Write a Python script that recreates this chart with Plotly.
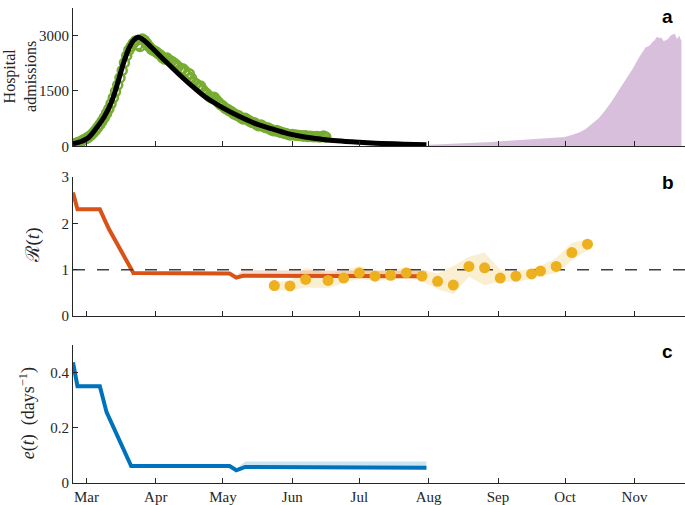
import pandas as pd
import plotly.graph_objects as go
from plotly.subplots import make_subplots

# ---- data -------------------------------------------------------------
# daily hospital admissions, first wave (from 24 Feb 2020)
adm_start = "2020-02-24"
adm_vals = [
    60, 75, 95, 120, 150, 185,
    215, 255, 300, 360, 430, 510, 590, 680, 780, 890, 1010, 1150, 1310, 1480,
    1660, 1850, 2050, 2260, 2450, 2600, 2700, 2790, 2850, 2740, 2700, 2900,
    2860, 2780, 2700, 2630, 2590,
    2560, 2510, 2470, 2400, 2360, 2390, 2330, 2300, 2260, 2210, 2150, 2080,
    2100, 2040, 1920, 1960, 1840, 1730, 1690, 1610, 1630, 1530, 1460, 1410,
    1340, 1310, 1330, 1260, 1190, 1130,
    1090, 1030, 1000, 960, 930, 880, 850, 830, 780, 740, 760, 720, 680, 650,
    640, 590, 560, 580, 540, 510, 500, 470, 440, 420, 430, 400, 380, 360, 350,
    330, 310,
    320, 310, 300, 295, 290, 280, 285, 270, 275, 265, 260, 270, 255, 260, 280, 250,
]
adm_dates = pd.date_range(adm_start, periods=len(adm_vals), freq="D")

# model fit
fit_dates = ["2020-02-24", "2020-02-28", "2020-03-02", "2020-03-06", "2020-03-09",
             "2020-03-12", "2020-03-14", "2020-03-16", "2020-03-18", "2020-03-20",
             "2020-03-22", "2020-03-24", "2020-03-26", "2020-03-30", "2020-04-05",
             "2020-04-11", "2020-04-17", "2020-04-23", "2020-05-01", "2020-05-08",
             "2020-05-15", "2020-05-23", "2020-05-30", "2020-06-06", "2020-06-14",
             "2020-06-21", "2020-07-01", "2020-07-11", "2020-07-21", "2020-07-31"]
fit_vals = [70, 140, 240, 540, 800, 1170, 1520, 1930, 2330, 2650, 2860, 2950, 2900,
            2680, 2320, 1970, 1640, 1340, 1040, 820, 630, 470, 345, 260, 195, 150,
            110, 80, 60, 45]
fit_hi = [80, 155, 260, 570, 840, 1220, 1580, 2000, 2410, 2740, 2950, 3040, 2980,
          2740, 2360, 2000, 1665, 1360, 1055, 830, 640, 478, 350, 264, 198, 152,
          112, 81, 61, 46]
fit_lo = [62, 128, 222, 512, 765, 1125, 1465, 1865, 2255, 2570, 2780, 2870, 2830,
          2625, 2285, 1942, 1618, 1322, 1026, 810, 621, 463, 340, 256, 192, 148,
          108, 79, 59, 44]

# second wave admissions
wave2_dates = ["2020-08-01", "2020-08-08", "2020-08-15", "2020-08-22", "2020-08-29",
               "2020-09-05", "2020-09-12", "2020-09-19", "2020-09-26", "2020-10-01",
               "2020-10-04", "2020-10-07", "2020-10-10", "2020-10-13", "2020-10-16",
               "2020-10-19", "2020-10-22", "2020-10-25", "2020-10-28", "2020-10-31",
               "2020-11-03", "2020-11-05", "2020-11-06", "2020-11-07", "2020-11-08",
               "2020-11-09", "2020-11-10", "2020-11-11", "2020-11-12", "2020-11-13",
               "2020-11-14", "2020-11-15", "2020-11-16", "2020-11-17", "2020-11-18",
               "2020-11-19", "2020-11-20", "2020-11-21", "2020-11-22"]
wave2_vals = [45, 60, 75, 100, 120, 150, 170, 205, 230, 250, 300, 370, 460, 600, 760,
              980, 1230, 1520, 1800, 2080, 2400, 2600, 2680, 2700, 2740, 2820, 2870,
              2960, 2930, 2940, 2850, 2870, 2900, 2990, 3020, 3050, 2900, 2990, 2850]

# reproduction number from model
r_dates = ["2020-02-24", "2020-02-26", "2020-03-07", "2020-03-11", "2020-03-22",
           "2020-05-04", "2020-05-07", "2020-05-10", "2020-07-31"]
r_vals = [2.66, 2.30, 2.30, 1.88, 0.93, 0.92, 0.83, 0.87, 0.86]
r_hi = [2.70, 2.33, 2.33, 1.91, 0.95, 0.94, 0.88, 0.99, 0.98]
r_lo = [2.62, 2.27, 2.27, 1.85, 0.91, 0.90, 0.80, 0.82, 0.82]

# weekly R estimates
rw_dates = ["2020-05-24", "2020-05-31", "2020-06-07", "2020-06-17", "2020-06-24",
            "2020-07-01", "2020-07-08", "2020-07-15", "2020-07-22", "2020-07-29",
            "2020-08-05", "2020-08-12", "2020-08-19", "2020-08-26", "2020-09-02",
            "2020-09-09", "2020-09-16", "2020-09-20", "2020-09-27", "2020-10-04",
            "2020-10-11"]
rw_vals = [0.66, 0.65, 0.79, 0.77, 0.82, 0.93, 0.86, 0.88, 0.93, 0.86, 0.75, 0.67,
           1.07, 1.04, 0.82, 0.86, 0.91, 0.97, 1.07, 1.37, 1.55]
rw_hi = [0.74, 0.76, 1.05, 0.92, 0.98, 1.08, 0.98, 1.00, 1.05, 1.00, 0.92, 1.08,
         1.28, 1.37, 1.00, 0.98, 1.02, 1.08, 1.25, 1.58, 1.65]
rw_lo = [0.56, 0.55, 0.62, 0.60, 0.72, 0.80, 0.76, 0.78, 0.82, 0.76, 0.58, 0.47,
         0.85, 0.66, 0.75, 0.74, 0.80, 0.88, 0.92, 1.20, 1.42]

# e(t)
e_dates = ["2020-02-24", "2020-02-26", "2020-03-07", "2020-03-10", "2020-03-21",
           "2020-05-04", "2020-05-07", "2020-05-11", "2020-07-31"]
e_vals = [0.436, 0.350, 0.350, 0.256, 0.061, 0.061, 0.046, 0.058, 0.055]
e_hi = [0.440, 0.356, 0.356, 0.260, 0.064, 0.064, 0.052, 0.078, 0.078]
e_lo = [0.432, 0.346, 0.346, 0.252, 0.059, 0.059, 0.044, 0.052, 0.051]

x_range = ["2020-02-24", "2020-11-23 14:00"]

# ---- colours ----------------------------------------------------------
GREEN, ORANGE, YELLOW, BLUE = "#77AC30", "#D95319", "#EDB120", "#0072BD"
PURPLE_FILL = "rgb(216,192,221)"
AX = "#262626"
SERIF = "Liberation Serif, DejaVu Serif, serif"
SANS = "Liberation Sans, Arial, sans-serif"


def band(x, lo, hi, color):
    return go.Scatter(x=list(x) + list(x)[::-1], y=list(hi) + list(lo)[::-1],
                      fill="toself", fillcolor=color, line=dict(width=0),
                      mode="lines", hoverinfo="skip")


fig = make_subplots(rows=3, cols=1, shared_xaxes=True)

# panel a
fig.add_trace(go.Scatter(x=wave2_dates, y=wave2_vals, fill="tozeroy",
                         fillcolor=PURPLE_FILL, line=dict(width=0), mode="lines"),
              row=1, col=1)
fig.add_trace(go.Scatter(x=adm_dates, y=adm_vals, mode="markers",
                         marker=dict(symbol="circle-open", size=9, color=GREEN,
                                     line=dict(width=2.5, color=GREEN))),
              row=1, col=1)
fig.add_trace(band(fit_dates, fit_lo, fit_hi, "rgba(150,150,150,0.45)"), row=1, col=1)
fig.add_trace(go.Scatter(x=fit_dates, y=fit_vals, mode="lines",
                         line=dict(color="black", width=5, shape="spline")),
              row=1, col=1)

# panel b
fig.add_trace(band(rw_dates, rw_lo, rw_hi, "rgba(237,177,32,0.2)"), row=2, col=1)
fig.add_trace(band(r_dates, r_lo, r_hi, "rgba(217,83,25,0.2)"), row=2, col=1)
fig.add_trace(go.Scatter(x=r_dates, y=r_vals, mode="lines",
                         line=dict(color=ORANGE, width=4)), row=2, col=1)
fig.add_trace(go.Scatter(x=x_range, y=[1, 1], mode="lines",
                         line=dict(color="#404040", width=1.5, dash="12px,12px")),
              row=2, col=1)
fig.add_trace(go.Scatter(x=rw_dates, y=rw_vals, mode="markers",
                         marker=dict(size=11, color=YELLOW)), row=2, col=1)

# panel c
fig.add_trace(band(e_dates, e_lo, e_hi, "rgba(0,114,189,0.2)"), row=3, col=1)
fig.add_trace(go.Scatter(x=e_dates, y=e_vals, mode="lines",
                         line=dict(color=BLUE, width=4)), row=3, col=1)

_ax = dict(showline=True, linecolor=AX, linewidth=1, ticks="inside", ticklen=5,
           tickwidth=1, tickcolor=AX, showgrid=False, zeroline=False,
           tickfont=dict(family=SERIF, size=15, color=AX))
fig.update_xaxes(**_ax, range=x_range, tick0="2020-03-01", dtick="M1", tickformat="%b")
fig.update_yaxes(**_ax)
fig.update_yaxes(range=[0, 3740], tickvals=[0, 1500, 3000], row=1, col=1)
fig.update_yaxes(range=[0, 3], tickvals=[0, 1, 2, 3], row=2, col=1)
fig.update_yaxes(range=[0, 0.5], tickvals=[0, 0.2, 0.4], row=3, col=1)

fig.update_layout(
    yaxis=dict(domain=[0.7087, 1.0]),
    yaxis2=dict(domain=[0.3512, 0.6446]),
    yaxis3=dict(domain=[0.0, 0.2913]),
)

ann = [
    dict(text="Hospital<br>admissions", x=-0.0866, y=0.855, textangle=-90,
         font=dict(family=SERIF, size=16, color=AX)),
    dict(text="ℛ(<i>t</i>)", x=-0.0654, y=0.5, textangle=-90,
         font=dict(family=SERIF, size=19, color=AX)),
    dict(text="<i>e</i>(<i>t</i>)  (days<sup>−1</sup>)", x=-0.0735, y=0.1467,
         textangle=-90, font=dict(family=SERIF, size=18, color=AX)),
    dict(text="<b>a</b>", x=0.9706, y=0.983, font=dict(family=SANS, size=19, color="black")),
    dict(text="<b>b</b>", x=0.972, y=0.632, font=dict(family=SANS, size=19, color="black")),
    dict(text="<b>c</b>", x=0.972, y=0.277, font=dict(family=SANS, size=19, color="black")),
]
for a in ann:
    fig.add_annotation(xref="paper", yref="paper", showarrow=False, borderpad=0,
                       xanchor="center", yanchor="middle", **a)

fig.update_layout(
    width=685, height=505,
    margin=dict(l=73, r=0, t=0, b=21),
    plot_bgcolor="white", paper_bgcolor="white",
    showlegend=False,
)

fig.write_html("out.html", config={"displayModeBar": False},
               post_script="document.body.style.margin='0';"
                           "document.body.style.overflow='hidden';")
